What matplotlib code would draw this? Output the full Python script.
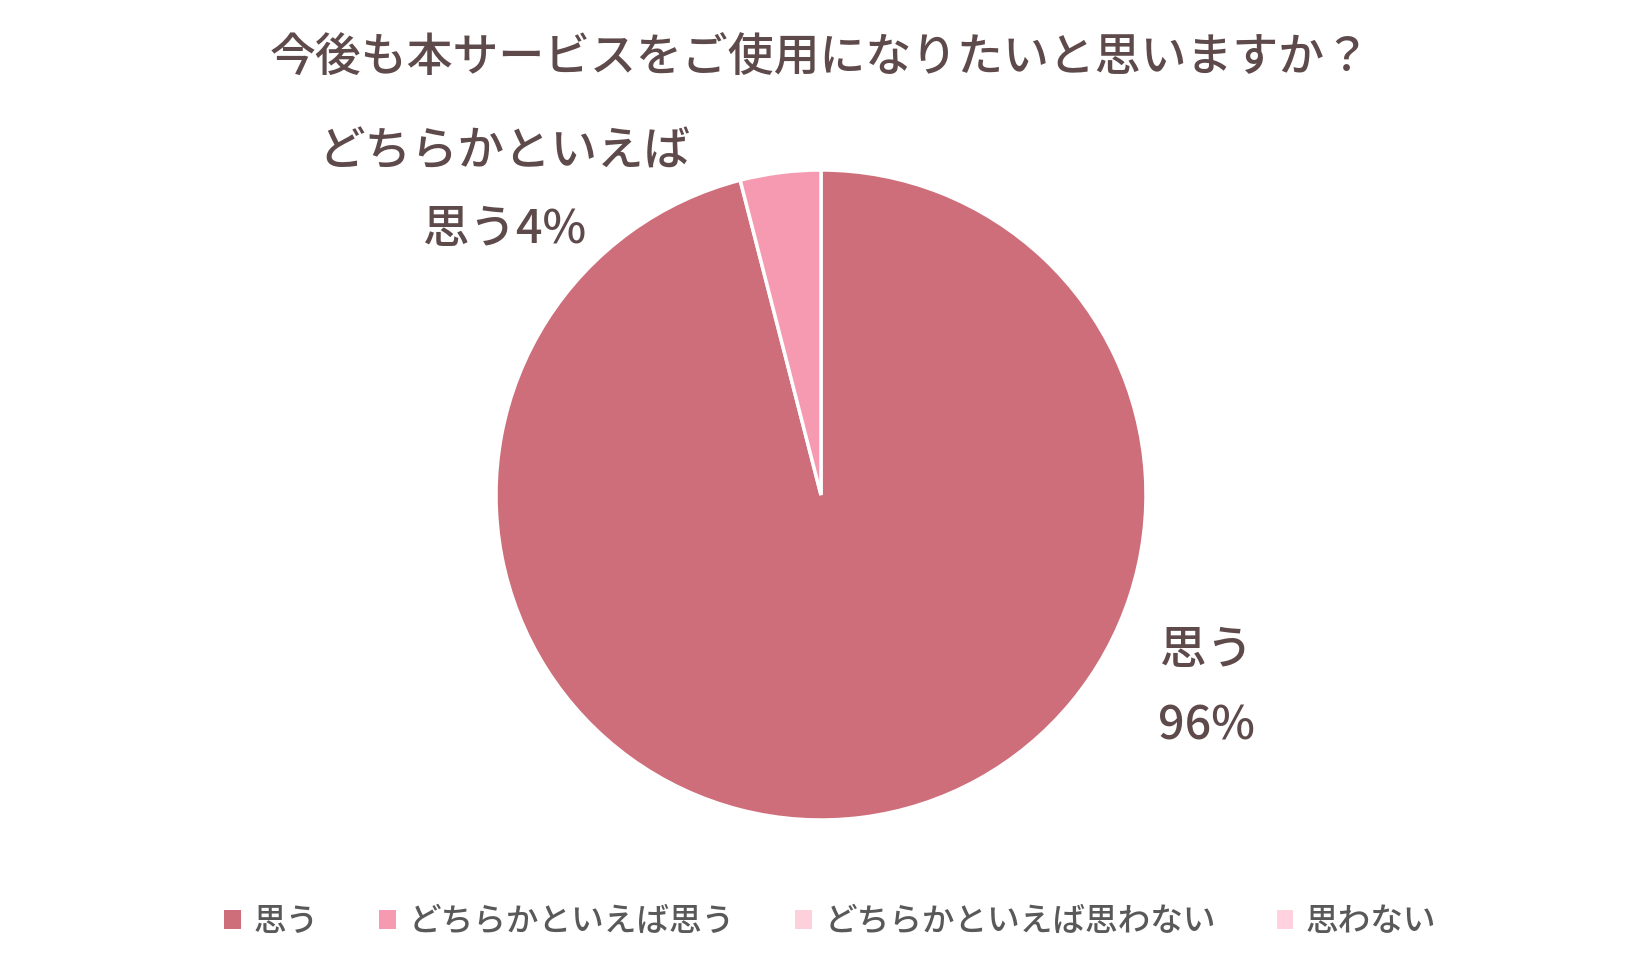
import matplotlib.pyplot as plt
from matplotlib.patches import Patch

plt.rcParams['font.family'] = ['Noto Sans CJK JP', 'DejaVu Sans']

# chart data
title = '今後も本サービスをご使用になりたいと思いますか？'
categories = ['思う', 'どちらかといえば思う', 'どちらかといえば思わない', '思わない']
values = [96, 4, 0, 0]
colors = ['#CE6E7A', '#F59AB0', '#FDD0DB', '#FFD2DD']

text_color = '#5E4A4B'
legend_color = '#595959'

fig = plt.figure(figsize=(16.41, 9.58), dpi=100)

# axes sized so that one data unit = 325 px in both directions
W, H = 1641, 958
cx, cy, r = 821, 463, 325
ax = fig.add_axes([(cx - 650) / W, (cy - 450) / H, 1300 / W, 900 / H])

# zero-share slices are not drawn, only shown in the legend
shown = [(v, c) for v, c in zip(values, colors) if v > 0]
ax.pie([v for v, _ in shown], colors=[c for _, c in shown],
       startangle=90, counterclock=False,
       wedgeprops=dict(edgecolor='white', linewidth=2.5))
ax.set_xlim(-2, 2)
ax.set_ylim(-450 / r, 450 / r)
ax.set_aspect('auto')
ax.axis('off')

# slice labels
lab = dict(ha='center', va='center', fontsize=33.5, color=text_color, fontweight='medium')
ax.text(1.185, -0.478, categories[0], **lab)
ax.text(1.185, -0.71, f'{values[0]}%', **lab)
ax.text(-0.975, 1.055, 'どちらかといえば', **lab)
ax.text(-0.975, 0.818, f'思う{values[1]}%', **lab)

fig.text(0.5, 0.939, title, ha='center', va='center', fontsize=33,
         color=text_color, fontweight='medium')

handles = [Patch(facecolor=c, edgecolor='none') for c in colors]
leg = fig.legend(handles, categories, loc='center', bbox_to_anchor=(0.506, 0.038),
                 ncol=4, frameon=False, prop=dict(size=23.5, weight='medium'),
                 handlelength=0.5, handleheight=0.5, handletextpad=0.4,
                 columnspacing=1.85)
for t in leg.get_texts():
    t.set_color(legend_color)

fig.savefig('out.png', dpi=100, facecolor='white')
